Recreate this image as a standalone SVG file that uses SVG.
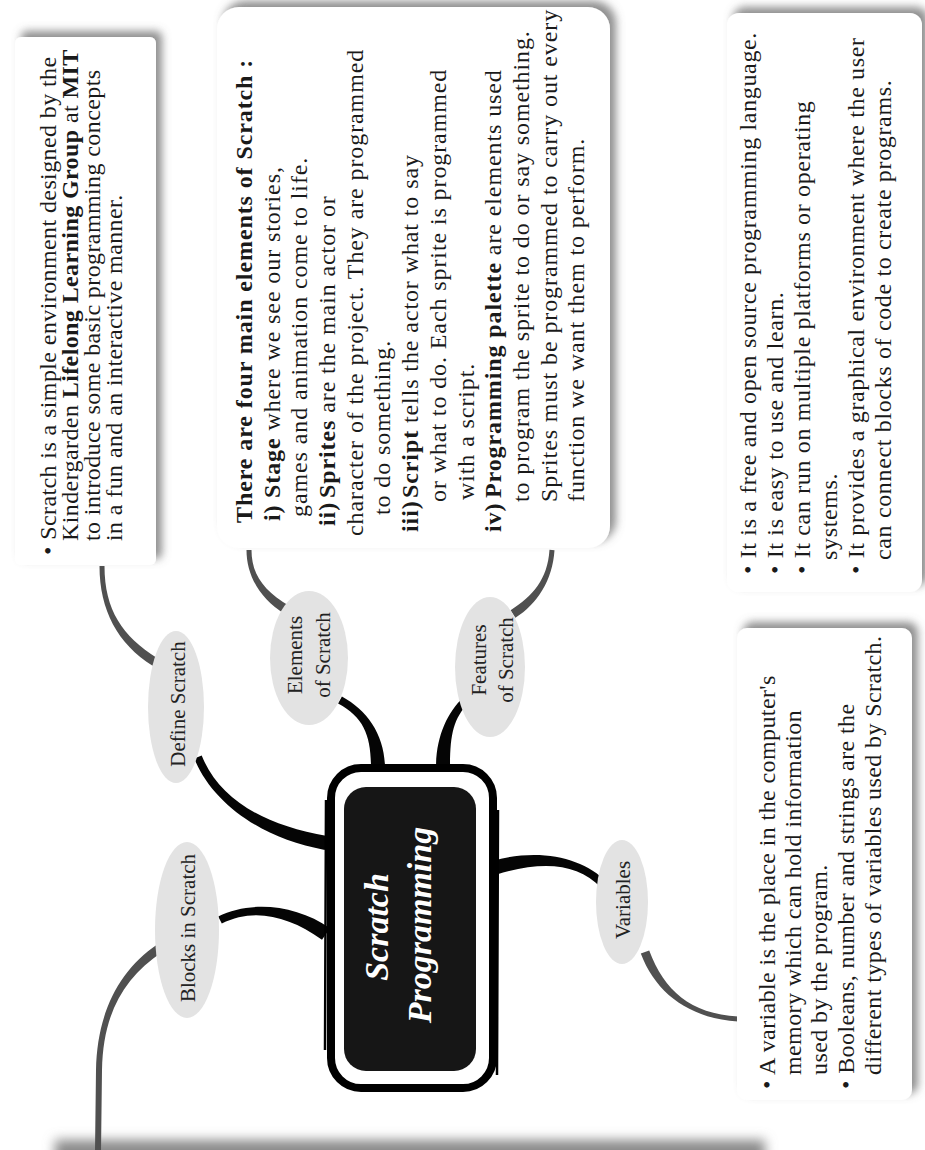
<svg xmlns="http://www.w3.org/2000/svg" width="925" height="1150" viewBox="0 0 925 1150">
<defs>
<filter id="sh" x="-20%" y="-20%" width="140%" height="140%">
<feGaussianBlur in="SourceAlpha" stdDeviation="4"/>
<feOffset dx="6" dy="-6" result="b"/>
<feFlood flood-color="#6a6a6a" flood-opacity="0.75"/>
<feComposite in2="b" operator="in"/>
<feMerge><feMergeNode/><feMergeNode in="SourceGraphic"/></feMerge>
</filter>
<filter id="blur" x="-10%" y="-100%" width="120%" height="300%"><feGaussianBlur stdDeviation="6"/></filter>
<style>
.box{fill:#fff;filter:url(#sh)}
.ell{fill:#e3e3e3}
.t{font-family:"Liberation Serif","Times New Roman",serif;font-size:24px;fill:#1a1a1a;letter-spacing:0.4px}
.t2{letter-spacing:0.9px}
.t3{letter-spacing:0.65px}
.lbl{font-family:"Liberation Serif","Times New Roman",serif;font-size:21px;fill:#222;text-anchor:middle}
.b{font-weight:bold}
.title{font-family:"Liberation Serif","Times New Roman",serif;font-size:34px;font-weight:bold;font-style:italic;fill:#fff;text-anchor:middle}
.blk{fill:#050505}
.gry{fill:#505050}
</style>
</defs>
<rect width="925" height="1150" fill="#fff"/>

<rect x="55" y="1140" width="710" height="30" fill="#8a8a8a" filter="url(#blur)"/>

<g id="connectors">
<path class="gry" d="M157.4 658.2 C122.4 636.2 104.5 610 104.5 566 L99.5 566 C99.5 610 117.6 643.8 152.6 665.8 Z"/>
<path class="gry" d="M157.5 944.3 C117.5 971.3 97 1015 96 1070 L95 1152 L101 1152 L102 1070 C103 1015 122.5 978.7 162.5 951.7 Z"/>
<path class="gry" d="M289.3 606.1 C264.3 591.1 251.5 575 251.5 550 L246.5 550 C246.5 575 259.7 598.9 284.7 613.9 Z"/>
<path class="gry" d="M515.4 617.8 C537.4 603.8 552.5 580.2 554.5 550.2 L549.5 549.8 C547.5 579.8 532.6 596.2 510.6 610.2 Z"/>
<path class="gry" d="M640.8 953.6 C655.8 993.6 689.8 1018.5 737.8 1021.5 L738.2 1016.5 C690.2 1013.5 664.2 990.4 649.2 950.4 Z"/>
<path class="blk" d="M194.3 758.5 C211.3 801.5 260.8 838.9 324.8 849.9 L327.2 836.1 C263.2 825.1 218.7 798.5 201.7 755.5 Z"/>
<path class="blk" d="M221.8 923.6 C253.8 907.6 288 915.7 322 939.7 L330 928.3 C296 904.3 250.2 900.4 218.2 916.4 Z"/>
<path class="blk" d="M338.1 703.5 C364.1 717.5 371 736 371 768 L385 768 C385 736 367.9 710.5 341.9 696.5 Z"/>
<path class="blk" d="M463.2 697.2 C447.2 713.2 436 736 436 768 L450 768 C450 736 452.8 718.8 468.8 702.8 Z"/>
<path class="blk" d="M606.9 882.2 C582.9 857.2 538 847.3 492 861.3 L496 874.7 C542 860.7 577.1 862.8 601.1 887.8 Z"/>
</g>

<g id="box-define">
<rect class="box" x="15" y="37" width="141" height="528" rx="6"/>
</g>
<g id="box-elements">
<rect class="box" x="217" y="7" width="393" height="541" rx="22"/>
</g>
<g id="box-features">
<rect class="box" x="727" y="13" width="195" height="579" rx="12"/>
</g>
<g id="box-variables">
<rect class="box" x="737" y="628" width="175" height="472" rx="10"/>
</g>

<g id="central">
<rect x="331" y="768" width="162" height="320" rx="30" fill="none" stroke="#000" stroke-width="8"/>
<path d="M326 800 L325 1050 M498 810 L497 1075" stroke="#000" stroke-width="2.5" fill="none"/>
<rect x="344" y="787" width="132" height="284" rx="22" fill="#161616"/>
</g>

<g id="node-define"><ellipse class="ell" cx="176" cy="707" rx="28" ry="76"/></g>
<g id="node-blocks"><ellipse class="ell" cx="187" cy="930" rx="32" ry="88"/></g>
<g id="node-elements"><ellipse class="ell" cx="309" cy="658" rx="39" ry="67"/></g>
<g id="node-features"><ellipse class="ell" cx="490" cy="667" rx="35" ry="70"/></g>
<g id="node-variables"><ellipse class="ell" cx="622" cy="902" rx="26" ry="62"/></g>

<g id="texts" transform="matrix(0,-1,1,0,0,1150)">
<text class="lbl" x="446" y="185">Define Scratch</text>
<text class="lbl" x="222" y="195">Blocks in Scratch</text>
<text class="lbl" x="495" y="302">Elements</text>
<text class="lbl" x="495" y="330">of Scratch</text>
<text class="lbl" x="490" y="486">Features</text>
<text class="lbl" x="490" y="513">of Scratch</text>
<text class="lbl" x="250" y="630">Variables</text>

<text class="title" x="223" y="388">Scratch</text>
<text class="title" x="225" y="431">Programming</text>

<text class="t" x="595" y="56">• Scratch is a simple environment designed by the</text>
<text class="t" x="609" y="78">Kindergarden <tspan class="b">Lifelong Learning Group</tspan> at <tspan class="b">MIT</tspan></text>
<text class="t" x="609" y="100">to introduce some basic programming concepts</text>
<text class="t" x="609" y="122">in a fun and an interactive manner.</text>

<text class="t t2 b" x="627" y="252">There are four main elements of Scratch :</text>
<text class="t t2" y="280"><tspan class="b" x="629">i)</tspan><tspan class="b" x="652">Stage</tspan> where we see our stories,</text>
<text class="t t2" x="633" y="307">games and animation come to life.</text>
<text class="t t2" y="335"><tspan class="b" x="624">ii)</tspan><tspan class="b" x="652">Sprites</tspan> are the main actor or</text>
<text class="t t2" x="614" y="363">character of the project. They are programmed</text>
<text class="t t2" x="635" y="390">to do something.</text>
<text class="t t2" y="418"><tspan class="b" x="618">iii)</tspan><tspan class="b" x="652">Script</tspan> tells the actor what to say</text>
<text class="t t2" x="648" y="446">or what to do. Each sprite is programmed</text>
<text class="t t2" x="650" y="474">with a script.</text>
<text class="t t2" y="501"><tspan class="b" x="618">iv)</tspan><tspan class="b" x="652">Programming palette</tspan> are elements used</text>
<text class="t t2" x="648" y="529">to program the sprite to do or say something.</text>
<text class="t t2" x="648" y="557">Sprites must be programmed to carry out every</text>
<text class="t t2" x="648" y="584">function we want them to perform.</text>

<text class="t t3" x="576" y="756">• It is a free and open source programming language.</text>
<text class="t t3" x="576" y="783">• It is easy to use and learn.</text>
<text class="t t3" x="576" y="810">• It can run on multiple platforms or operating</text>
<text class="t t3" x="590" y="837">systems.</text>
<text class="t t3" x="576" y="864">• It provides a graphical environment where the user</text>
<text class="t t3" x="590" y="891">can connect blocks of code to  create programs.</text>

<text class="t" x="61" y="775">• A variable is the place in the computer's</text>
<text class="t" x="75" y="801">memory which can hold information</text>
<text class="t" x="75" y="827">used by the program.</text>
<text class="t" x="61" y="854">• Booleans, number and strings are the</text>
<text class="t" x="75" y="881">different types of variables used by Scratch.</text>
</g>
</svg>
